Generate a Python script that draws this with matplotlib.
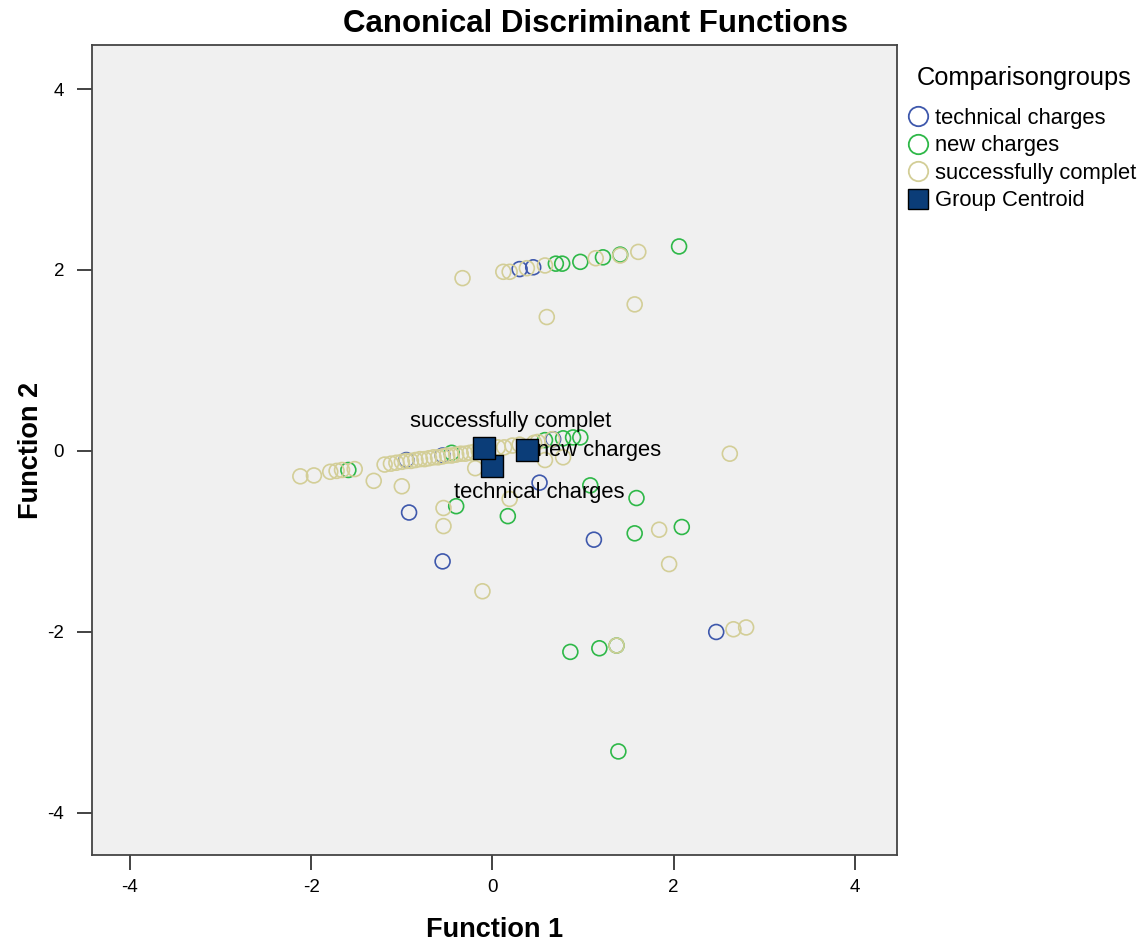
import matplotlib
matplotlib.use("Agg")
import matplotlib.pyplot as plt
from matplotlib.lines import Line2D

plt.rcParams['font.family'] = ['Liberation Sans', 'DejaVu Sans']
plt.rcParams['axes.unicode_minus'] = False

# Discriminant scores per comparison group (Function 1, Function 2)
tech_f1 = [0.30, 0.45, 0.52, -0.92, 1.12, -0.55, 2.47, 0.67, -0.55, -0.95]
tech_f2 = [2.01, 2.03, -0.35, -0.68, -0.98, -1.22, -2.00, 0.13, -0.05, -0.10]

new_f1 = [0.70, 0.77, 0.97, 1.22, 1.41, 2.06, -1.59, 0.58, 0.78, 0.89, 0.97,
          1.08, 1.59, -0.40, 0.17, 1.57, 2.09, 0.86, 1.18, 1.37, 1.39, -0.45]
new_f2 = [2.07, 2.07, 2.09, 2.14, 2.17, 2.26, -0.21, 0.12, 0.14, 0.15, 0.15,
          -0.38, -0.52, -0.61, -0.72, -0.91, -0.84, -2.22, -2.18, -2.15, -3.32, -0.02]

succ_f1 = [-0.33, 0.12, 0.19, 0.38, 0.58, 1.14, 1.41, 1.61, 1.57, 0.60,
           -2.12, -1.97, -1.79, -1.72, -1.66, -1.52, -1.31, -1.19, -1.12, -1.06,
           -1.00, -0.95, -0.90, -0.85, -0.80, -0.75, -0.70, -0.65, -0.60, -0.55,
           -0.50, -0.45, -0.40, -0.35, -0.30, -0.25, -0.20, -0.15, -0.10, -0.05,
           0.06, 0.13, 0.22, 0.30, 0.46, 0.50, 0.66, 0.58, 0.78, -1.00,
           -0.19, 0.19, -0.54, -0.54, 1.84, 1.95, -0.11, 1.37, 2.66, 2.80, 2.62]
succ_f2 = [1.91, 1.98, 1.98, 2.02, 2.05, 2.13, 2.16, 2.20, 1.62, 1.48,
           -0.28, -0.27, -0.23, -0.22, -0.21, -0.20, -0.33, -0.15, -0.14, -0.13,
           -0.12, -0.11, -0.11, -0.10, -0.09, -0.09, -0.08, -0.07, -0.07, -0.06,
           -0.05, -0.05, -0.04, -0.03, -0.03, -0.02, -0.01, 0.00, 0.01, 0.02,
           0.04, 0.04, 0.06, 0.07, 0.09, 0.10, 0.13, -0.10, -0.07, -0.39,
           -0.19, -0.53, -0.63, -0.83, -0.87, -1.25, -1.55, -2.15, -1.97, -1.95, -0.03]

# Group centroids
centroid_names = ["technical charges", "new charges", "successfully complet"]
centroid_f1 = [-0.01, 0.38, -0.09]
centroid_f2 = [-0.17, 0.01, 0.03]

group_names = ["technical charges", "new charges", "successfully complet"]
group_colors = ["#3E58AC", "#2EB848", "#D3CE97"]
centroid_color = "#0B3D78"

fig = plt.figure(figsize=(11.45, 9.42), dpi=100)
ax = fig.add_axes([0.0803, 0.0924, 0.7031, 0.8598])
ax.set_facecolor("#F0F0F0")

marker_kw = dict(s=115, facecolors="none", linewidths=1.2, zorder=3)
ax.scatter(tech_f1, tech_f2, edgecolors=group_colors[0], **marker_kw)
ax.scatter(new_f1, new_f2, edgecolors=group_colors[1], **marker_kw)
ax.scatter(succ_f1, succ_f2, edgecolors=group_colors[2], **marker_kw)

ax.scatter(centroid_f1, centroid_f2, marker="s", s=230, c=centroid_color,
           edgecolors="black", linewidths=1.0, zorder=5)

label_offsets = {
    "technical charges": ((34.5, -18.5), "center"),
    "new charges": ((7.5, 0.0), "left"),
    "successfully complet": ((19.0, 19.5), "center"),
}
for name, fx, fy in zip(centroid_names, centroid_f1, centroid_f2):
    off, ha = label_offsets[name]
    ax.annotate(name, (fx, fy), xytext=off, textcoords="offset points",
                ha=ha, va="center", fontsize=15.8, color="black", zorder=6)

ax.set_xlim(-4.42, 4.465)
ax.set_ylim(-4.464, 4.486)
ax.set_xticks([-4, -2, 0, 2, 4])
ax.set_yticks([-4, -2, 0, 2, 4])
ax.tick_params(axis="both", direction="out", length=11, width=1.2,
               color="#222222", labelsize=13.5, pad=6)
ax.tick_params(axis="y", pad=9)
for sp in ax.spines.values():
    sp.set_color("#444444")
    sp.set_linewidth(1.3)

ax.set_xlabel("Function 1", fontsize=19.5, fontweight="bold")
ax.set_ylabel("Function 2", fontsize=19.5, fontweight="bold")
ax.xaxis.set_label_coords(0.5, -0.077)
ax.yaxis.set_label_coords(-0.0596, 0.5)
fig.text(0.5205, 0.975, "Canonical Discriminant Functions", ha="center",
         va="center", fontsize=22.5, fontweight="bold")

# Legend: title drawn separately so its gap to the entries can be set
fig.text(0.894, 0.917, "Comparisongroups", ha="center", va="center",
         fontsize=18.3)
handles = [Line2D([], [], marker="o", linestyle="none", markersize=14,
                  markerfacecolor="none", markeredgecolor=c, markeredgewidth=1.3)
           for c in group_colors]
handles.append(Line2D([], [], marker="s", linestyle="none", markersize=15,
                      markerfacecolor=centroid_color, markeredgecolor="black"))
labels = group_names + ["Group Centroid"]
leg = fig.legend(handles, labels, loc="upper left",
                 bbox_to_anchor=(0.7825, 0.895), frameon=False,
                 fontsize=15.8, handletextpad=0.2, handlelength=1.2,
                 labelspacing=0.3, borderaxespad=0.0)

fig.savefig("out.png", dpi=100, facecolor="white")
